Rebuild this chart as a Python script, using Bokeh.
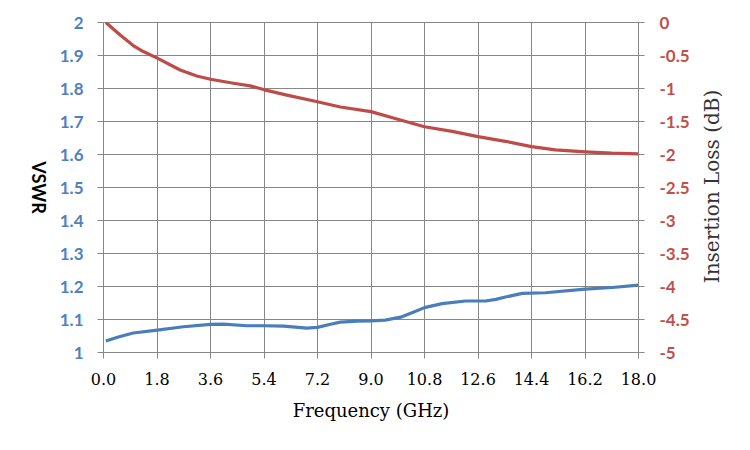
import math
from bokeh.plotting import figure
from bokeh.layouts import row
from bokeh.models import (Range1d, LinearAxis, FixedTicker, CustomJSTickFormatter,
                          NumeralTickFormatter, Label)
from bokeh.embed import file_html
from bokeh.resources import INLINE

# ---- data ----
vswr_freq = [0.08, 0.5, 1.0, 1.81, 2.69, 3.6, 4.04, 4.82, 5.42, 6.06, 6.84, 7.2,
             7.6, 7.97, 8.53, 9.0, 9.48, 10.04, 10.4, 10.8, 11.39, 12.18, 12.86,
             13.2, 13.52, 14.09, 14.87, 16.2, 17.12, 18.0]
vswr_vals = [1.035, 1.047, 1.059, 1.068, 1.078, 1.085, 1.086, 1.081, 1.081, 1.080,
             1.074, 1.076, 1.085, 1.092, 1.095, 1.096, 1.098, 1.108, 1.121, 1.136,
             1.148, 1.156, 1.156, 1.161, 1.168, 1.179, 1.181, 1.192, 1.197, 1.204]

il_freq = [0.08, 0.56, 1.0, 1.34, 1.81, 2.58, 3.14, 3.6, 4.37, 4.93, 5.42, 6.17,
           7.2, 7.97, 9.0, 9.93, 10.8, 11.73, 12.6, 13.52, 14.4, 15.2, 16.2,
           17.1, 18.0]
il_vals = [0.0, -0.19, -0.35, -0.44, -0.54, -0.72, -0.81, -0.86, -0.92, -0.96,
           -1.02, -1.10, -1.20, -1.28, -1.35, -1.47, -1.58, -1.65, -1.73, -1.80,
           -1.88, -1.93, -1.96, -1.98, -1.99]

x_ticks = [0.0, 1.8, 3.6, 5.4, 7.2, 9.0, 10.8, 12.6, 14.4, 16.2, 18.0]
vswr_ticks = [1.0, 1.1, 1.2, 1.3, 1.4, 1.5, 1.6, 1.7, 1.8, 1.9, 2.0]
il_ticks = [0.0, -0.5, -1.0, -1.5, -2.0, -2.5, -3.0, -3.5, -4.0, -4.5, -5.0]

x_title = "Frequency (GHz)"
left_title = "VSWR"
right_title = "Insertion Loss (dB)"

BLUE = "#4A7EBB"
RED = "#BE4B48"
BLUE_TXT = "#4F81BD"
RED_TXT = "#C0504D"
GRID = "#878787"

H = 434
LEFT_W = 55
RIGHT_W = 36
FRAME_H = 330

p = figure(frame_width=535, frame_height=FRAME_H, output_backend="svg",
           toolbar_location=None, x_range=Range1d(0, 18), y_range=Range1d(1, 2),
           min_border_left=103 - LEFT_W, min_border_right=60, min_border_top=22,
           min_border_bottom=82, background_fill_color="white",
           border_fill_color="white", outline_line_color=GRID)

p.extra_y_ranges = {"il": Range1d(-5, 0)}

fmt = CustomJSTickFormatter(code="return String(Math.round(tick*10)/10)")

# x axis
xa = p.xaxis[0]
xa.ticker = FixedTicker(ticks=x_ticks)
xa.formatter = NumeralTickFormatter(format="0.0")
xa.major_label_text_font = "DejaVu Serif"
xa.major_label_text_font_size = "16px"
xa.major_label_text_color = "#000000"
xa.major_label_standoff = 14
xa.axis_label = x_title
xa.axis_label_text_font = "DejaVu Serif"
xa.axis_label_text_font_size = "18px"
xa.axis_label_text_font_style = "normal"
xa.axis_label_text_color = "#000000"
xa.axis_label_standoff = 12

# left axis
ya = p.yaxis[0]
ya.ticker = FixedTicker(ticks=vswr_ticks)
ya.formatter = fmt
ya.major_label_text_font = "Lato"
ya.major_label_text_font_style = "bold"
ya.major_label_text_font_size = "17px"
ya.major_label_text_color = BLUE_TXT
ya.major_label_standoff = 14

# right axis
ra = LinearAxis(y_range_name="il", ticker=FixedTicker(ticks=il_ticks), formatter=fmt)
ra.major_label_text_font = "Lato"
ra.major_label_text_font_style = "bold"
ra.major_label_text_font_size = "17px"
ra.major_label_text_color = RED_TXT
ra.major_label_standoff = 15
p.add_layout(ra, "right")

for ax in (xa, ya, ra):
    ax.axis_line_color = GRID
    ax.major_tick_line_color = GRID
    ax.major_tick_out = 6
    ax.major_tick_in = 0
    ax.minor_tick_line_color = None

p.xgrid.ticker = FixedTicker(ticks=x_ticks)
p.ygrid.ticker = FixedTicker(ticks=vswr_ticks)
for g in (p.xgrid[0], p.ygrid[0]):
    g.grid_line_color = GRID
    g.grid_line_width = 1

p.line(vswr_freq, vswr_vals, line_color=BLUE, line_width=3.2, line_join="round")
p.line(il_freq, il_vals, line_color=RED, line_width=3.2, line_join="round",
       y_range_name="il")


def title_panel(w, text, x, y, angle, font, style, size, color):
    f = figure(width=w, height=H, output_backend="svg", toolbar_location=None,
               x_axis_location=None, y_axis_location=None, min_border=0,
               outline_line_color=None, background_fill_color="white",
               border_fill_color="white", x_range=Range1d(0, 1), y_range=Range1d(0, 1))
    f.grid.visible = False
    f.add_layout(Label(x=x, y=y, x_units="screen", y_units="screen", text=text,
                       angle=angle, text_align="center", text_baseline="middle",
                       text_font=font, text_font_style=style, text_font_size=size,
                       text_color=color))
    return f


# the side panels' frames line up with the main frame (page y 22..352)
left_panel = title_panel(LEFT_W, left_title, 38.5, FRAME_H / 2, -math.pi / 2,
                         "Lato", "bold", "18px", "#000000")
right_panel = title_panel(RIGHT_W, right_title, 13.5, FRAME_H / 2 + 1, math.pi / 2,
                          "DejaVu Serif", "normal", "20px", "#333333")

layout = row(left_panel, p, right_panel, spacing=0)

open("out.html", "w").write(file_html(layout, INLINE))
